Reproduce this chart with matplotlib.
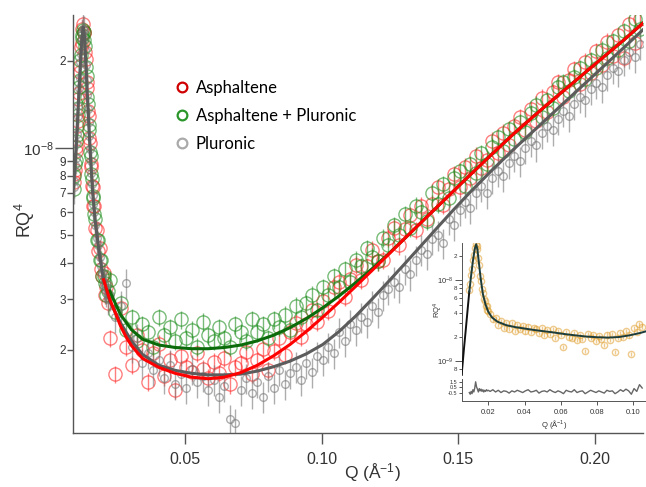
import matplotlib
matplotlib.use("Agg")
import numpy as np
import matplotlib.pyplot as plt
from matplotlib.lines import Line2D
from matplotlib.ticker import FixedLocator, FixedFormatter, NullLocator

plt.rcParams['font.family'] = ['Liberation Sans', 'DejaVu Sans']
plt.rcParams['mathtext.fontset'] = 'custom'
plt.rcParams['mathtext.rm'] = 'Liberation Sans'
plt.rcParams['mathtext.it'] = 'Liberation Sans:italic'

SCALE = 1e-9  # values below are RQ^4 in units of 1e-9

# ---- main panel data (Q in 1/A) ----
q = [0.0093, 0.00955, 0.0098, 0.01005, 0.0103, 0.01055, 0.0108, 0.01105, 0.0113, 0.01155,
     0.0118, 0.01205, 0.0123, 0.01255, 0.0128, 0.01305, 0.0133, 0.01355, 0.0138, 0.01405,
     0.0143, 0.01455, 0.0148, 0.01505, 0.0153, 0.01555, 0.0158, 0.01605, 0.0163, 0.01655,
     0.0168, 0.0173, 0.0178, 0.0183, 0.0188, 0.0193, 0.0198, 0.0203, 0.0208, 0.0213,
     0.0218,
     0.0225, 0.0245, 0.0265, 0.0285, 0.0305, 0.0325, 0.0345, 0.0365, 0.0385, 0.0405,
     0.0425, 0.0445, 0.0465, 0.0485, 0.0505, 0.0525, 0.0545, 0.0565, 0.0585, 0.0605,
     0.0625, 0.0645, 0.0665, 0.0685, 0.0705, 0.0725, 0.0745, 0.0765, 0.0785, 0.0805,
     0.0825, 0.0845, 0.0865, 0.0885, 0.0905, 0.0925, 0.0945, 0.0965, 0.0985, 0.1005,
     0.1025, 0.1045, 0.1065, 0.1085, 0.1105, 0.1125, 0.1145, 0.1165, 0.1185, 0.1205,
     0.1225, 0.1245, 0.1265, 0.1285, 0.1305, 0.1325, 0.1345, 0.1365, 0.1385, 0.1405,
     0.1425, 0.1445, 0.1465, 0.1485, 0.1505, 0.1525, 0.1545, 0.1565, 0.1585, 0.1605,
     0.1625, 0.1645, 0.1665, 0.1685, 0.1705, 0.1725, 0.1745, 0.1765, 0.1785, 0.1805,
     0.1825, 0.1845, 0.1865, 0.1885, 0.1905, 0.1925, 0.1945, 0.1965, 0.1985, 0.2005,
     0.2025, 0.2045, 0.2065, 0.2085, 0.2105, 0.2125, 0.2145, 0.2165]

asph = [7.6, 8.1, 8.4, 9.8, 10.1, 11.9, 12.4, 14.8, 15.5, 18.3,
        19.2, 22.4, 23.1, 25.9, 26.8, 25.1, 24.9, 21.4, 20.3, 16.9,
        16.1, 13.4, 12.9, 10.8, 10.4, 8.8, 8.6, 7.4, 7.3, 6.3,
        6.3, 5.3, 5.2, 4.4, 4.5, 3.8, 3.6, 3.7, 3.1, 3.3,
        2.9,
        2.2, 1.65, 2.8, 2.05, 1.78, 2.25, 2.0, 1.55, 1.95, 2.1,
        1.62, 1.85, 1.45, 1.9, 1.75, 1.68, 1.95, 1.72, 1.60, 1.82,
        1.66, 1.88, 1.52, 1.74, 1.80, 1.96, 1.65, 1.84, 2.02, 1.70,
        1.98, 2.20, 1.92, 2.30, 2.48, 2.22, 2.45, 2.75, 2.50, 2.95,
        2.72, 3.30, 3.45, 3.05, 3.52, 3.95, 3.50, 3.90, 4.45, 4.05,
        4.10, 4.90, 5.30, 4.60, 5.25, 5.85, 5.20, 6.30, 5.70, 6.40,
        7.30, 6.35, 7.20, 8.10, 7.30, 8.60, 7.90, 9.40, 8.50, 9.10,
        10.6, 9.60, 11.3, 10.2, 11.9, 12.8, 11.5, 13.6, 12.4, 14.9,
        13.3, 15.6, 16.9, 15.0, 17.2, 18.7, 16.6, 19.9, 18.2, 21.6,
        19.4, 23.3, 20.8, 24.6, 20.5, 26.8, 23.0, 28.0]

asph_plur = [7.2, 8.0, 8.8, 9.1, 10.6, 11.1, 13.0, 13.8, 16.3, 17.2,
             20.1, 20.9, 24.0, 24.6, 25.6, 25.2, 23.6, 22.5, 19.0, 17.8,
             15.0, 14.2, 12.0, 11.5, 9.7, 9.4, 8.1, 7.8, 6.8, 6.7,
             5.9, 5.7, 4.8, 4.8, 4.1, 4.1, 3.6, 3.6, 3.4, 3.1,
             3.2,
             3.5, 2.7, 2.9, 2.35, 2.6, 2.15, 2.45, 2.3, 2.05, 2.6,
             2.25, 2.4, 2.15, 2.55, 2.2, 2.35, 2.05, 2.5, 2.25, 2.15,
             2.4, 2.2, 2.05, 2.45, 2.3, 2.15, 2.55, 2.3, 2.45, 2.2,
             2.55, 2.4, 2.65, 2.35, 2.85, 2.6, 2.9, 3.1, 2.75, 3.3,
             3.1, 3.6, 3.3, 3.8, 3.45, 4.1, 3.9, 4.5, 4.2, 4.05,
             4.9, 4.6, 5.4, 5.0, 5.9, 5.3, 6.3, 6.0, 5.6, 7.0,
             6.4, 7.5, 6.7, 7.9, 8.3, 7.4, 8.8, 8.2, 9.6, 8.8,
             10.1, 10.9, 9.8, 11.6, 10.7, 12.3, 11.4, 13.2, 14.1, 12.8,
             14.6, 13.8, 16.2, 16.9, 15.7, 17.6, 18.9, 17.3, 20.1, 18.9,
             21.9, 20.5, 23.4, 21.8, 25.3, 23.5, 27.9, 25.8]

plur = [7.3, 7.7, 8.7, 9.2, 10.4, 11.2, 12.9, 14.0, 16.1, 17.4,
        19.8, 21.2, 23.8, 24.9, 25.9, 25.5, 23.9, 21.8, 19.4, 17.2,
        15.3, 13.6, 12.3, 11.0, 9.9, 9.0, 8.2, 7.5, 6.9, 6.4,
        6.0, 5.4, 4.9, 4.6, 4.2, 3.9, 3.7, 3.4, 3.3, 3.2,
        3.0,
        3.1, 2.6, 2.85, 3.4, 2.05, 2.2, 1.8, 1.95, 1.7, 1.85,
        1.6, 1.78, 1.52, 1.65, 1.48, 1.72, 1.55, 1.62, 1.45, 1.58,
        1.38, 1.50, 1.15, 1.12, 1.45, 1.60, 1.42, 1.55, 1.38, 1.62,
        1.48, 1.70, 1.52, 1.66, 1.75, 1.58, 1.80, 1.68, 1.90, 1.85,
        2.05, 1.95, 2.30, 2.15, 2.45, 2.35, 2.60, 2.50, 2.85, 2.70,
        3.10, 3.25, 3.45, 3.30, 3.80, 3.65, 4.10, 4.45, 4.30, 4.85,
        5.00, 4.70, 5.70, 5.40, 6.10, 6.50, 6.20, 7.00, 7.40, 7.00,
        7.90, 8.30, 8.00, 8.90, 9.40, 9.00, 10.0, 10.6, 10.2, 11.3,
        11.9, 11.5, 12.6, 13.4, 12.9, 14.2, 15.0, 14.6, 16.0, 16.8,
        16.3, 17.9, 18.9, 18.4, 20.2, 21.4, 20.6, 22.9]

# relative error bars
asph_err = 0.07
asph_plur_err = 0.07
plur_err = 0.12

# ---- fit curves ----
fit_q_plur = [0.0093, 0.0103, 0.0113, 0.0118, 0.0123, 0.0128, 0.0133, 0.0138, 0.0143, 0.0148,
              0.0153, 0.0158, 0.0163, 0.0173, 0.0188, 0.0203, 0.0225, 0.0265, 0.0305, 0.0345,
              0.0405, 0.0465, 0.0525, 0.0585, 0.0645, 0.0705, 0.0765, 0.0825, 0.0885, 0.0945,
              0.1005, 0.1065, 0.1125, 0.1185, 0.1245, 0.1305, 0.1365, 0.1425, 0.1485, 0.1545,
              0.1625, 0.1705, 0.1785, 0.1865, 0.1945, 0.2025, 0.2105, 0.2175]
fit_plur = [7.3, 10.3, 15.9, 19.6, 23.6, 26.2, 24.3, 19.6, 15.5, 12.4,
            10.0, 8.3, 7.0, 5.5, 4.25, 3.5, 2.95, 2.48, 2.15, 1.93,
            1.77, 1.70, 1.66, 1.64, 1.64, 1.65, 1.69, 1.75, 1.83, 1.94,
            2.09, 2.32, 2.62, 3.00, 3.45, 3.98, 4.60, 5.32, 6.14, 7.05,
            8.40, 9.94, 11.67, 13.71, 16.10, 18.91, 22.21, 25.6]

fit_q_asph = [0.0203, 0.0225, 0.0245, 0.0265, 0.0285, 0.0305, 0.0345, 0.0405, 0.0465, 0.0525,
              0.0585, 0.0645, 0.0705, 0.0765, 0.0825, 0.0885, 0.0945, 0.1005, 0.1065, 0.1125,
              0.1185, 0.1245, 0.1305, 0.1365, 0.1425, 0.1485, 0.1545, 0.1625, 0.1705, 0.1785,
              0.1865, 0.1945, 0.2025, 0.2105, 0.2175]
fit_asph = [3.5, 3.0, 2.70, 2.42, 2.22, 2.07, 1.87, 1.74, 1.66, 1.61,
            1.59, 1.61, 1.67, 1.77, 1.91, 2.09, 2.32, 2.60, 2.93, 3.32,
            3.77, 4.28, 4.87, 5.53, 6.28, 7.13, 8.09, 9.55, 11.24, 13.10,
            15.20, 17.60, 20.40, 23.60, 27.0]

fit_q_asph_plur = [0.0225, 0.0265, 0.0305, 0.0345, 0.0405, 0.0465, 0.0525, 0.0585, 0.0645, 0.0705,
                   0.0765, 0.0825, 0.0885, 0.0945, 0.1005, 0.1065, 0.1125, 0.1185, 0.1245, 0.1305,
                   0.1365, 0.1425, 0.1485, 0.1545, 0.1625, 0.1705, 0.1785, 0.1865, 0.1945, 0.2025,
                   0.2105, 0.2175]
fit_asph_plur = [3.2, 2.65, 2.35, 2.18, 2.08, 2.04, 2.02, 2.02, 2.04, 2.08,
                 2.15, 2.25, 2.39, 2.57, 2.80, 3.08, 3.42, 3.82, 4.30, 4.87,
                 5.53, 6.28, 7.13, 8.09, 9.55, 11.24, 13.10, 15.20, 17.60, 20.40,
                 23.60, 27.0]

# ---- inset data ----
q_in = [0.0095, 0.0100, 0.0105, 0.0110, 0.0115, 0.0120, 0.0125, 0.0130, 0.0135, 0.0140,
        0.0145, 0.0150, 0.0155, 0.0160, 0.0165, 0.0170, 0.0175, 0.0180, 0.0185, 0.0190,
        0.0195, 0.0200,
        0.0210, 0.0225, 0.0240, 0.0255, 0.0270, 0.0285, 0.0300, 0.0315, 0.0330, 0.0345,
        0.0360, 0.0375, 0.0390, 0.0405, 0.0420, 0.0435, 0.0450, 0.0465, 0.0480, 0.0495,
        0.0510, 0.0525, 0.0540, 0.0555, 0.0570, 0.0585, 0.0600, 0.0615, 0.0630, 0.0645,
        0.0660, 0.0675, 0.0690, 0.0705, 0.0720, 0.0735, 0.0750, 0.0765, 0.0780, 0.0795,
        0.0810, 0.0825, 0.0840, 0.0855, 0.0870, 0.0885, 0.0900, 0.0915, 0.0930, 0.0945,
        0.0960, 0.0975, 0.0990, 0.1005, 0.1020, 0.1035, 0.1050]
rq4_in = [7.6, 9.0, 11.8, 14.0, 17.9, 20.6, 25.0, 27.8, 26.5, 24.6,
          19.0, 15.6, 11.5, 9.9, 7.8, 7.0, 5.9, 5.6, 4.9, 4.8,
          4.3, 4.2,
          3.9, 3.3, 3.4, 2.85, 3.15, 2.6, 3.0, 2.55, 2.95, 2.4,
          2.85, 2.5, 2.75, 2.35, 2.7, 2.3, 2.6, 2.55, 2.25, 2.6,
          2.15, 2.45, 2.2, 2.5, 1.95, 2.35, 2.15, 1.5, 2.3, 2.0,
          1.95, 2.25, 1.85, 2.1, 1.9, 1.35, 2.2, 1.95, 2.1, 1.8,
          2.05, 1.9, 1.6, 2.15, 1.85, 2.2, 1.3, 1.95, 2.25, 2.0,
          2.4, 2.1, 1.25, 2.6, 2.3, 2.9, 2.7]
resid_in = [-0.4, -0.7, -0.2, -0.6, 0.1, -0.3, 0.4, 1.5, 0.6, 0.2,
            -0.3, 0.3, -0.1, 0.2, -0.2, 0.1, -0.3, 0.0, -0.2, 0.1,
            -0.1, 0.0,
            -0.2, 0.1, -0.3, 0.0, -0.4, -0.1, -0.2, -0.5, -0.1, -0.3,
            0.0, -0.2, -0.4, -0.1, 0.1, -0.3, -0.2, 0.0, -0.5, -0.2,
            -0.1, -0.3, 0.1, -0.2, -0.4, -0.1, -0.3, -0.6, 0.0, -0.2,
            -0.3, 0.1, -0.4, -0.2, -0.1, -0.6, -0.3, 0.0, -0.2, -0.4,
            -0.1, -0.3, -0.5, 0.0, -0.2, -0.1, -0.6, -0.3, 0.1, -0.2,
            0.2, -0.1, -0.7, 0.3, -0.2, 1.0, 0.4]
in_err = 0.06

fit_q_in = [0.0053, 0.0065, 0.0075, 0.0085, 0.0095, 0.0105, 0.0115, 0.0125, 0.0133, 0.0140,
            0.0148, 0.0158, 0.0170, 0.0185, 0.0200, 0.0220, 0.0250, 0.0300, 0.0350, 0.0400,
            0.0450, 0.0500, 0.0560, 0.0620, 0.0680, 0.0740, 0.0800, 0.0860, 0.0920, 0.0980,
            0.1040, 0.1070]
fit_in = [0.70, 1.40, 2.4, 4.2, 7.3, 11.5, 17.5, 24.5, 28.0, 24.0,
          16.5, 10.5, 6.8, 5.0, 4.1, 3.5, 3.1, 2.8, 2.65, 2.55,
          2.45, 2.37, 2.28, 2.18, 2.10, 2.03, 1.99, 1.97, 2.00, 2.10,
          2.25, 2.35]

TXT = '#333333'
SPINE = '#555555'


def series(ax, x, y, rel, color, ms, alpha, z):
    x = np.asarray(x)
    y = np.asarray(y) * SCALE
    ax.errorbar(x, y, yerr=y * rel, fmt='o', ms=ms, mfc='none', mec=color, mew=1.0,
                ecolor=color, elinewidth=1.0, capsize=0, alpha=alpha, zorder=z)


fig = plt.figure(figsize=(6.46, 4.87), dpi=100)
ax = fig.add_axes([73 / 646, 54 / 487, 570 / 646, 418 / 487])

series(ax, q, asph, asph_err, '#ff2a2a', 9.5, 0.6, 2)
series(ax, q, asph_plur, asph_plur_err, '#1f8f1f', 9.5, 0.6, 2.1)
series(ax, q, plur, plur_err, '#777777', 5.5, 0.6, 2.2)

ax.plot(fit_q_plur, np.asarray(fit_plur) * SCALE, color='#5c5c5c', lw=2.2, zorder=3)
ax.plot(fit_q_asph_plur, np.asarray(fit_asph_plur) * SCALE, color='#0b6b0b', lw=2.2, zorder=3.1)
ax.plot(fit_q_asph, np.asarray(fit_asph) * SCALE, color='#ff0000', lw=2.2, zorder=3.2)

ax.set_yscale('log')
ax.set_xlim(0.0091, 0.2176)
ax.set_ylim(1.032e-9, 2.885e-8)

for s in ['top', 'right']:
    ax.spines[s].set_visible(False)
for s in ['left', 'bottom']:
    ax.spines[s].set_color(SPINE)
    ax.spines[s].set_linewidth(1.0)

ax.set_xticks([0.05, 0.10, 0.15, 0.20])
ax.set_xticklabels(['0.05', '0.10', '0.15', '0.20'])
ax.xaxis.set_minor_locator(NullLocator())
ax.tick_params(axis='x', length=8, width=1, color=SPINE, labelsize=11.5, labelcolor=TXT, pad=6)

ax.yaxis.set_major_locator(FixedLocator([1e-8]))
ax.yaxis.set_major_formatter(FixedFormatter([r'$10^{-8}$']))
minor_pos = [2e-9, 3e-9, 4e-9, 5e-9, 6e-9, 7e-9, 8e-9, 9e-9, 2e-8]
ax.yaxis.set_minor_locator(FixedLocator(minor_pos))
ax.yaxis.set_minor_formatter(FixedFormatter(['2', '3', '4', '5', '6', '7', '8', '9', '2']))
ax.tick_params(axis='y', which='major', length=13, width=1, color=SPINE, labelsize=11, labelcolor=TXT, pad=1)
ax.tick_params(axis='y', which='minor', length=4, width=1, color=SPINE, labelsize=8.5, labelcolor=TXT, pad=1)

fig.text(25 / 646, 1 - 220 / 487, r'RQ$^4$', rotation=90, ha='center', va='center', fontsize=13, color=TXT)
fig.text(372 / 646, 1 - 473 / 487, r'Q (Å$^{-1}$)', ha='center', va='center', fontsize=12.5, color=TXT)

handles = [Line2D([], [], ls='none', marker='o', ms=7, mfc='none', mec='#d00000', mew=1.6),
           Line2D([], [], ls='none', marker='o', ms=7, mfc='none', mec='#2a962a', mew=1.6),
           Line2D([], [], ls='none', marker='o', ms=7, mfc='none', mec='#aaaaaa', mew=1.6)]
ax.legend(handles, ['Asphaltene', 'Asphaltene + Pluronic', 'Pluronic'],
          loc='upper left', bbox_to_anchor=(175 / 646, 1 - 80 / 487), bbox_transform=fig.transFigure,
          frameon=False, prop={'family': 'Lato', 'size': 12}, handlelength=0.8, handletextpad=0.45,
          labelspacing=0.72, borderpad=0, borderaxespad=0)

# ---- inset ----
axi = fig.add_axes([461.7 / 646, 112 / 487, 184.3 / 646, 132 / 487])
axr = fig.add_axes([461.7 / 646, 86 / 487, 184.3 / 646, 22 / 487])
axi.patch.set_alpha(0)
axr.patch.set_alpha(0)

series(axi, q_in, rq4_in, in_err, '#e0a030', 4.5, 0.55, 2)
fq = np.asarray(fit_q_in)
fv = np.asarray(fit_in) * SCALE
axi.plot(fq[:5], fv[:5], color='#111111', lw=1.4, zorder=3)
axi.plot(fq[4:], fv[4:], color='#1c3c3c', lw=1.4, zorder=3)
axi.set_yscale('log')
axi.set_xlim(0.0053, 0.1071)
axi.set_ylim(6.8e-10, 2.9e-8)
for s in ['top', 'right', 'bottom']:
    axi.spines[s].set_visible(False)
axi.spines['left'].set_color(SPINE)
axi.spines['left'].set_linewidth(0.7)
axi.set_xticks([])
axi.yaxis.set_major_locator(FixedLocator([1e-9, 1e-8]))
axi.yaxis.set_major_formatter(FixedFormatter([r'$10^{-9}$', r'$10^{-8}$']))
axi.yaxis.set_minor_locator(FixedLocator([8e-10, 2e-9, 3e-9, 4e-9, 5e-9, 6e-9, 7e-9, 8e-9, 9e-9, 2e-8]))
axi.yaxis.set_minor_formatter(FixedFormatter(['8', '2', '', '4', '', '6', '', '8', '', '2']))
axi.tick_params(axis='y', which='major', length=5, width=0.7, color=SPINE, labelsize=5.5, labelcolor=TXT, pad=1)
axi.tick_params(axis='y', which='minor', length=2, width=0.7, color=SPINE, labelsize=4.5, labelcolor=TXT, pad=1)
fig.text(438 / 646, 1 - 310 / 487, r'RQ$^4$', rotation=90, ha='center', va='center', fontsize=5.5, color=TXT)

axr.plot(q_in, resid_in, color='#666666', lw=1.0)
axr.set_xlim(0.0053, 0.1071)
axr.set_ylim(-1.9, 2.0)
for s in ['top', 'right']:
    axr.spines[s].set_visible(False)
for s in ['left', 'bottom']:
    axr.spines[s].set_color(SPINE)
    axr.spines[s].set_linewidth(0.7)
axr.set_yticks([1.5, 0.5, -0.5])
axr.set_yticklabels(['1.5', '0.5', '-0.5'])
axr.tick_params(axis='y', length=2, width=0.7, color=SPINE, labelsize=4, labelcolor=TXT, pad=1)
axr.set_xticks([0.02, 0.04, 0.06, 0.08, 0.10])
axr.set_xticklabels(['0.02', '0.04', '0.06', '0.08', '0.10'])
axr.tick_params(axis='x', length=3, width=0.7, color=SPINE, labelsize=5.5, labelcolor=TXT, pad=3)
axr.set_xlabel(r'Q (Å$^{-1}$)', fontsize=5.5, color=TXT, labelpad=1)

fig.savefig('out.png', dpi=100)
